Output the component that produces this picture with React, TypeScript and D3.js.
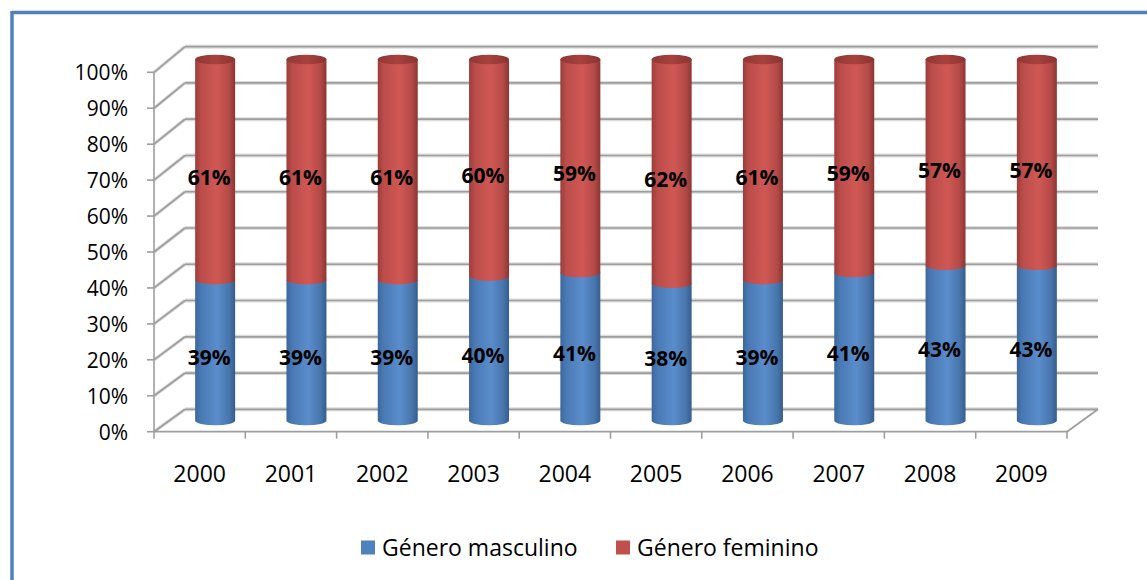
import React from "react";
import * as d3 from "d3";

const years = ["2000", "2001", "2002", "2003", "2004", "2005", "2006", "2007", "2008", "2009"];
const masculino = [39, 39, 39, 40, 41, 38, 39, 41, 43, 43];
const feminino = [61, 61, 61, 60, 59, 62, 61, 59, 57, 57];
const yTicks = [0, 10, 20, 30, 40, 50, 60, 70, 80, 90, 100];
const seriesNames = ["Género masculino", "Género feminino"];

const W = 1147;
const H = 580;
const FONT = "'Open Sans', 'Liberation Sans', sans-serif";

export default function App() {
  const x0 = 154;
  const x1 = 1067;
  const depthX = 31;
  const x = d3.scaleBand<string>().domain(years).range([x0, x1]).paddingInner(0).paddingOuter(0);
  const yFront = d3.scaleLinear().domain([0, 100]).range([431.7, 72.3]);
  const yBack = d3.scaleLinear().domain([0, 100]).range([409.3, 46.7]);
  const yMid = (v: number) => (yFront(v) + yBack(v)) / 2;

  const rx = 20;
  const ry = 4.8;

  const gridStroke = "#9e9e9e";

  const cyl = (cx: number, v0: number, v1: number) => {
    const yb = yMid(v0);
    const yt = yMid(v1);
    return `M${cx - rx},${yt} L${cx - rx},${yb} A${rx},${ry} 0 0 0 ${cx + rx},${yb} L${cx + rx},${yt} Z`;
  };

  return (
    <svg width={W} height={H} style={{ position: "absolute", left: 0, top: 0, background: "#fff" }}>
      <defs>
        <linearGradient id="gBlue" x1="0" x2="1" y1="0" y2="0">
          <stop offset="0" stopColor="#3d679c" />
          <stop offset="0.15" stopColor="#4a7ab5" />
          <stop offset="0.55" stopColor="#5a8dcc" />
          <stop offset="0.85" stopColor="#4876ad" />
          <stop offset="1" stopColor="#365d8d" />
        </linearGradient>
        <linearGradient id="gRed" x1="0" x2="1" y1="0" y2="0">
          <stop offset="0" stopColor="#9c3d3a" />
          <stop offset="0.15" stopColor="#bb4d4a" />
          <stop offset="0.55" stopColor="#d05854" />
          <stop offset="0.85" stopColor="#b44a47" />
          <stop offset="1" stopColor="#8c3532" />
        </linearGradient>
        <linearGradient id="gRedTop" x1="0" x2="1" y1="0" y2="0">
          <stop offset="0" stopColor="#8e3835" />
          <stop offset="0.5" stopColor="#a8413e" />
          <stop offset="1" stopColor="#8a3431" />
        </linearGradient>
      </defs>

      {/* border */}
      <line x1={12} y1={12.5} x2={W} y2={12.5} stroke="#4f81bd" strokeWidth={3.5} />
      <line x1={12} y1={11} x2={12} y2={H} stroke="#4f81bd" strokeWidth={3.5} />

      {/* back wall gridlines and side wall */}
      {yTicks.map((t) => (
        <g key={"g" + t}>
          <line x1={x0 + depthX} y1={yBack(t)} x2={x1 + depthX} y2={yBack(t)} stroke="#dcdcdc" strokeWidth={4} />
          <line x1={x0} y1={yFront(t)} x2={x0 + depthX} y2={yBack(t)} stroke="#dcdcdc" strokeWidth={3.5} />
        </g>
      ))}
      {yTicks.map((t) => (
        <g key={"gl" + t}>
          <line x1={x0 + depthX} y1={yBack(t)} x2={x1 + depthX} y2={yBack(t)} stroke={gridStroke} strokeWidth={1.7} />
          <line x1={x0} y1={yFront(t)} x2={x0 + depthX} y2={yBack(t)} stroke={gridStroke} strokeWidth={1.7} />
          <line x1={x0 - 7} y1={yFront(t)} x2={x0} y2={yFront(t)} stroke={gridStroke} strokeWidth={1.6} />
          <text x={128} y={yFront(t)} textAnchor="end" dominantBaseline="central" fontFamily={FONT} fontSize={21} fill="#000">
            {t + "%"}
          </text>
        </g>
      ))}

      {/* floor */}
      <line x1={x0} y1={yFront(0)} x2={x1} y2={yFront(0)} stroke={gridStroke} strokeWidth={1.8} />
      <line x1={x1} y1={yFront(0)} x2={x1 + depthX} y2={yBack(0)} stroke={gridStroke} strokeWidth={1.8} />
      <line x1={x0} y1={yFront(100)} x2={x0} y2={yFront(0)} stroke={gridStroke} strokeWidth={1.6} />
      {d3.range(years.length + 1).map((i) => {
        const xx = x0 + i * x.bandwidth();
        return <line key={"xt" + i} x1={xx} y1={yFront(0)} x2={xx} y2={yFront(0) + 7} stroke={gridStroke} strokeWidth={1.6} />;
      })}

      {/* cylinders */}
      {years.map((yr, i) => {
        const cx = (x(yr) as number) + x.bandwidth() / 2 + depthX / 2;
        const m = masculino[i];
        const f = feminino[i];
        return (
          <g key={"c" + yr}>
            <path d={cyl(cx, 0, m)} fill="url(#gBlue)" />
            <path d={cyl(cx, m, m + f)} fill="url(#gRed)" />
            <ellipse cx={cx} cy={yMid(m + f)} rx={rx} ry={ry} fill="url(#gRedTop)" />
          </g>
        );
      })}

      {/* labels */}
      {years.map((yr, i) => {
        const cx = (x(yr) as number) + x.bandwidth() / 2 + depthX / 2 - 6;
        const m = masculino[i];
        const f = feminino[i];
        return (
          <g key={"l" + yr} fontFamily={FONT} fontWeight="bold" fontSize={21} fill="#000" textAnchor="middle">
            <text x={cx} y={yFront(m / 2) - 5} dominantBaseline="central">{m + "%"}</text>
            <text x={cx} y={yFront(m + f / 2) - 5} dominantBaseline="central">{f + "%"}</text>
          </g>
        );
      })}

      {/* x labels */}
      {years.map((yr) => (
        <text key={"x" + yr} x={(x(yr) as number) + x.bandwidth() / 2} y={473} textAnchor="middle" dominantBaseline="central" fontFamily={FONT} fontSize={23} fill="#000">
          {yr}
        </text>
      ))}

      {/* legend */}
      <rect x={361} y={540.5} width={14} height={14} fill="#4f81bd" />
      <text x={382} y={547} dominantBaseline="central" fontFamily={FONT} fontSize={23} fill="#000">{seriesNames[0]}</text>
      <rect x={616} y={540.5} width={14} height={14} fill="#c0504d" />
      <text x={637} y={547} dominantBaseline="central" fontFamily={FONT} fontSize={23} fill="#000">{seriesNames[1]}</text>
    </svg>
  );
}
